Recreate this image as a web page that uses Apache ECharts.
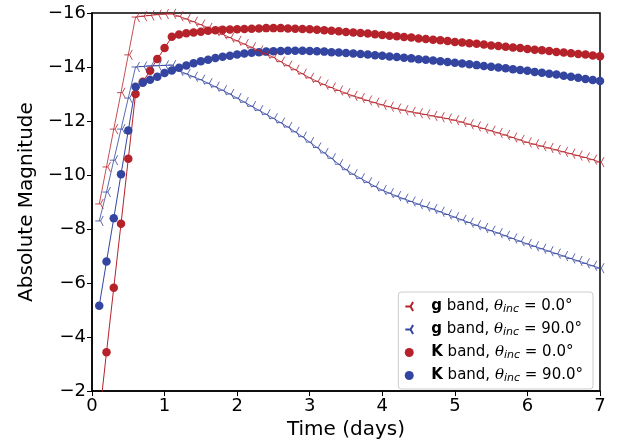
<!DOCTYPE html>
<html><head><meta charset="utf-8">
<script src="https://cdn.jsdelivr.net/npm/echarts@6/dist/echarts.min.js"></script>
<style>html,body{margin:0;padding:0;background:#fff}#c{width:617px;height:445px}</style>
</head><body><div id="c"></div>
<script>
const times = Array.from({length:70},(_,i)=>+((i+1)/10).toFixed(1));
const gRed0 = [-8.93,-10.3,-11.7,-13.05,-14.45,-15.85,-15.88,-15.91,-15.94,-15.96,-15.97,-15.88,-15.78,-15.68,-15.57,-15.45,-15.33,-15.21,-15.09,-14.97,-14.85,-14.73,-14.61,-14.49,-14.36,-14.2,-14.05,-13.9,-13.75,-13.6,-13.47,-13.35,-13.24,-13.13,-13.03,-12.93,-12.85,-12.76,-12.68,-12.6,-12.53,-12.46,-12.40,-12.34,-12.29,-12.24,-12.19,-12.14,-12.09,-12.03,-11.96,-11.88,-11.80,-11.72,-11.64,-11.56,-11.48,-11.39,-11.30,-11.21,-11.14,-11.07,-11.00,-10.93,-10.86,-10.79,-10.72,-10.65,-10.57,-10.48];
const gBlue90 = [-8.3,-9.37,-10.55,-11.7,-12.85,-14.0,-14.02,-14.04,-14.05,-14.06,-14.07,-13.86,-13.75,-13.64,-13.53,-13.4,-13.27,-13.14,-13.0,-12.85,-12.7,-12.55,-12.4,-12.25,-12.1,-11.94,-11.78,-11.6,-11.42,-11.22,-11.02,-10.82,-10.62,-10.4,-10.2,-10.03,-9.88,-9.73,-9.58,-9.44,-9.33,-9.22,-9.12,-9.02,-8.92,-8.83,-8.74,-8.64,-8.54,-8.44,-8.34,-8.24,-8.14,-8.04,-7.94,-7.85,-7.75,-7.65,-7.55,-7.45,-7.36,-7.27,-7.18,-7.09,-7.0,-6.91,-6.82,-6.73,-6.64,-6.55];
const kRed0 = [-1.0,-3.44,-5.83,-8.2,-10.6,-13.0,-13.45,-13.86,-14.3,-14.7,-15.12,-15.2,-15.25,-15.28,-15.31,-15.34,-15.36,-15.38,-15.39,-15.40,-15.41,-15.42,-15.43,-15.44,-15.44,-15.44,-15.43,-15.42,-15.41,-15.40,-15.38,-15.36,-15.34,-15.32,-15.30,-15.28,-15.26,-15.24,-15.21,-15.19,-15.16,-15.14,-15.11,-15.09,-15.06,-15.04,-15.01,-14.99,-14.96,-14.93,-14.91,-14.88,-14.86,-14.83,-14.80,-14.78,-14.75,-14.72,-14.70,-14.67,-14.64,-14.62,-14.59,-14.56,-14.54,-14.51,-14.48,-14.46,-14.43,-14.40];
const kBlue90 = [-5.16,-6.8,-8.4,-10.03,-11.65,-13.27,-13.42,-13.53,-13.64,-13.78,-13.87,-13.97,-14.06,-14.14,-14.21,-14.27,-14.33,-14.38,-14.42,-14.46,-14.50,-14.53,-14.55,-14.57,-14.58,-14.59,-14.60,-14.60,-14.60,-14.59,-14.58,-14.57,-14.55,-14.54,-14.52,-14.50,-14.48,-14.46,-14.44,-14.42,-14.39,-14.37,-14.34,-14.32,-14.29,-14.27,-14.24,-14.21,-14.19,-14.16,-14.13,-14.10,-14.07,-14.04,-14.01,-13.98,-13.95,-13.92,-13.89,-13.86,-13.82,-13.79,-13.75,-13.72,-13.68,-13.64,-13.60,-13.56,-13.52,-13.48];
const names = ['g0','g90','K0','K90'];
const labels = {g0:'{b|g} band, {i|θ}{s|inc} = 0.0°', g90:'{b|g} band, {i|θ}{s|inc} = 90.0°', K0:'{b|K} band, {i|θ}{s|inc} = 0.0°', K90:'{b|K} band, {i|θ}{s|inc} = 90.0°'};
const RED='#b5222a', BLUE='#3345a0';
const tri='path://M0,10 L10,10 M10,10 L15,1.3 M10,10 L15,18.7';
const zip=a=>a.map((v,i)=>[times[i],v]);
function gs(name,data,color){return {name,type:'line',data:zip(data),symbol:tri,symbolSize:[8,10],showSymbol:true,
 lineStyle:{color,width:0.8},itemStyle:{color:'rgba(0,0,0,0)',borderColor:color,borderWidth:0.8},z:3};}
function ks(name,data,color){return {name,type:'line',data:zip(data),symbol:'circle',symbolSize:8.5,
 lineStyle:{color,width:1},itemStyle:{color,borderWidth:0},z:2};}
const chart=echarts.init(document.getElementById('c'));
chart.setOption({
 animation:false,
 grid:{left:92,right:17,top:13,bottom:52,show:true,borderColor:'#000',borderWidth:1.5},
 xAxis:{type:'value',min:0,max:7,interval:1,name:'Time (days)',nameLocation:'middle',nameGap:28,
  nameTextStyle:{fontSize:20,color:'#000',fontFamily:'DejaVu Sans'},
  axisLine:{lineStyle:{color:'#000',width:1.5}},axisTick:{length:5,lineStyle:{color:'#000'}},
  axisLabel:{fontSize:18,color:'#000',fontFamily:'DejaVu Sans',margin:6},splitLine:{show:false}},
 yAxis:{type:'value',min:-16,max:-2,interval:2,inverse:true,name:'Absolute Magnitude',nameLocation:'middle',nameGap:52,
  nameTextStyle:{fontSize:20,color:'#000',fontFamily:'DejaVu Sans'},
  axisLine:{lineStyle:{color:'#000',width:1.5}},axisTick:{length:5,lineStyle:{color:'#000'}},
  axisLabel:{fontSize:18,color:'#000',fontFamily:'DejaVu Sans',margin:6,formatter:v=>String(v).replace('-','−')},splitLine:{show:false}},
 legend:{orient:'vertical',right:24,bottom:56,itemGap:7,itemWidth:34,itemHeight:9,
  backgroundColor:'#fff',borderColor:'#ccc',borderWidth:1,borderRadius:3,padding:[7,10,5,6],
  data:[{name:'g0',icon:tri},{name:'g90',icon:tri},{name:'K0',icon:'circle'},{name:'K90',icon:'circle'}],
  formatter:n=>labels[n],
  textStyle:{fontSize:15,color:'#000',fontFamily:'DejaVu Sans',
   rich:{b:{fontWeight:'bold',fontSize:15,fontFamily:'DejaVu Sans'},i:{fontStyle:'italic',fontSize:15,fontFamily:'DejaVu Serif'},s:{fontStyle:'italic',fontSize:11,padding:[6,0,0,0],fontFamily:'DejaVu Sans'}}}},
 series:[gs('g0',gRed0,RED),gs('g90',gBlue90,BLUE),ks('K0',kRed0,RED),ks('K90',kBlue90,BLUE)]
});
</script></body></html>
